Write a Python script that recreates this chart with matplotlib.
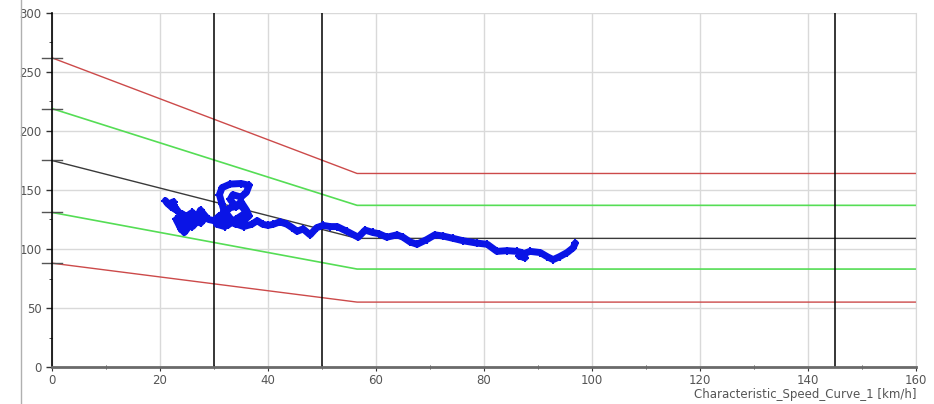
import numpy as np
import matplotlib
matplotlib.use('Agg')
import matplotlib.pyplot as plt
from matplotlib.lines import Line2D

# limit curves (value at speed 0, at the knee, and at the end)
knee_speed = [0, 56.5, 160]
upper_red = [262, 164, 164]
upper_green = [219, 137, 137]
center_line = [175, 109, 109]
lower_green = [131, 83, 83]
lower_red = [88, 55, 55]
limit_starts = [262, 219, 175, 131, 88]

# vertical markers [km/h]
markers_x = [30, 50, 145]

# measured trajectory
speed = [21, 21.5, 22.5, 22, 23, 22.5, 24, 23.5, 24, 23, 24.5, 25, 24, 25.5, 24.5,
         25.5, 26, 25, 27, 26, 27.5, 28.5, 27.5, 28, 29, 30, 31, 30.5, 32, 33,
         32, 31.5, 31, 31.5, 33, 35, 36.5, 36, 35, 33.5, 33, 34, 35, 36,
         36.5, 35.5, 34, 33, 32, 31, 32.5, 34, 36, 35, 33, 31.5, 33, 35.5,
         37, 38, 39, 40, 41, 42.2, 43.5, 44.5, 45.4, 46.5, 47.8, 49, 50.2, 51.5,
         52.8, 54.6, 56.7, 58, 59.4, 60.5, 62, 63.9, 65, 66.3, 67.6, 69.4, 70.9,
         72.4, 74.3, 76.1, 78.7, 80.6, 82.4, 84.3, 86.1, 87, 86.5, 87.6, 86.8,
         88.5, 90.4, 91.7, 92.8, 94, 95.4, 96.5, 96.9]
value = [141, 138, 140, 136, 133, 137, 128, 122, 116, 125, 118, 123, 130, 126, 114,
         120, 131, 128, 124, 119, 133, 127, 122, 129, 125, 124, 128, 121, 119, 124,
         130, 138, 146, 152, 155, 155.5, 154, 148, 144, 146, 142, 136, 140, 133,
         128, 124, 121, 126, 132, 127, 120, 125, 131, 137, 135, 129, 123, 119,
         121, 124, 121, 120, 121, 123, 121, 118, 115, 117, 112, 118, 120, 119,
         119, 115, 110, 116, 114, 113, 110, 112, 110, 106, 104, 108, 112,
         111, 109, 107, 105, 104, 98, 98.6, 98, 97, 94, 92.6, 95,
         98, 97, 93.5, 91, 93.5, 97, 101, 105]

fig = plt.figure(figsize=(9.34, 4.04), dpi=100)
ax = fig.add_axes([52/934, 1-367/404, 864/934, 354/404])

ax.set_xlim(0, 160)
ax.set_ylim(0, 300)
ax.set_xticks(np.arange(0, 161, 20))
ax.set_xticks(np.arange(0, 161, 10), minor=True)
ax.set_yticks(np.arange(0, 301, 50))
ax.set_yticks(np.arange(0, 301, 25), minor=True)
ax.grid(True, which='major', color='#d9d9d9', lw=1)
ax.set_axisbelow(True)

ax.spines['top'].set_visible(False)
ax.spines['right'].set_color('#d9d9d9')
ax.spines['left'].set_color('black')
ax.spines['left'].set_linewidth(1.2)
ax.spines['bottom'].set_color('#6a6a6a')
ax.spines['bottom'].set_linewidth(2)

ax.tick_params(axis='both', which='both', colors='#333333', labelcolor='#555555', labelsize=8.5)
ax.tick_params(axis='y', which='major', length=4, width=1)
ax.tick_params(axis='y', which='minor', length=2)
ax.tick_params(axis='x', which='major', length=3, pad=2)
ax.tick_params(axis='x', which='minor', length=3, direction='inout')

ax.plot(knee_speed, upper_red, color='#cc4a4a', lw=1)
ax.plot(knee_speed, upper_green, color='#55dd55', lw=1.2)
ax.plot(knee_speed, center_line, color='#3a3a3a', lw=1)
ax.plot(knee_speed, lower_green, color='#55dd55', lw=1.2)
ax.plot(knee_speed, lower_red, color='#cc4a4a', lw=1)

for v in limit_starts:
    ax.plot([-1.9, 1.9], [v, v], color='#555555', lw=1, clip_on=False)

for x in markers_x:
    ax.axvline(x, color='black', lw=1.1)

ax.plot(speed, value, color='#0a14e6', lw=5, solid_joinstyle='round',
        solid_capstyle='round', marker='+', ms=6, mew=1.5, zorder=5)

ax.set_xlabel('Characteristic_Speed_Curve_1 [km/h]', color='#555555', fontsize=8.5,
              loc='right', labelpad=1)

fig.add_artist(Line2D([21/934, 21/934], [0, 1], color='#b0b0b0', lw=1))

fig.savefig('out.png', dpi=100)
